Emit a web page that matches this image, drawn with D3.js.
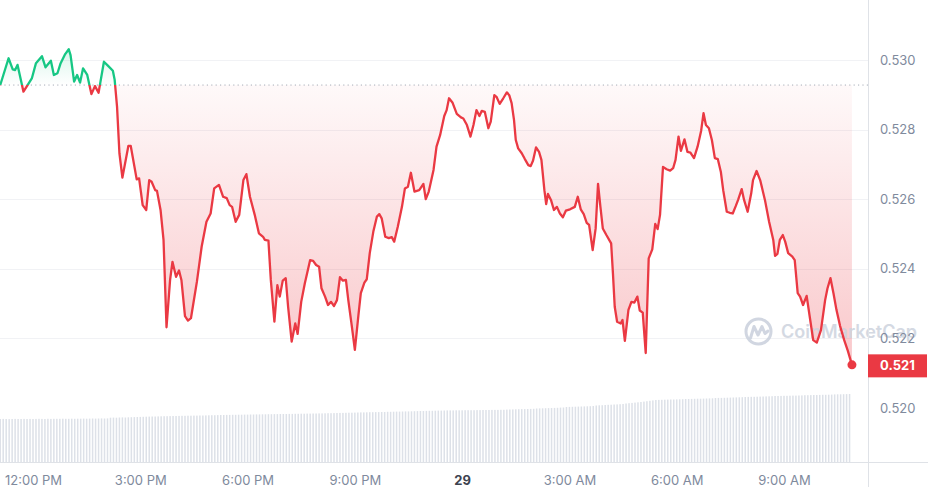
<!DOCTYPE html>
<html>
<head>
<meta charset="utf-8">
<script src="https://cdn.jsdelivr.net/npm/d3@7"></script>
<style>
  html, body { margin: 0; padding: 0; background: #ffffff; }
  svg { display: block; font-family: Inter, "Noto Sans", sans-serif; }
</style>
</head>
<body>
<svg id="chart" width="928" height="495"></svg>
<script>
// ---- data (minutes since 11:00 AM on the 28th) ----
const minutes = [5,19,26,30,34,44,58,65,75,81,90,95,101,106,114,120,123,129,134,139,144,151,158,164,170,179,186,194,197,201,205,210,220,224,234,238,244,250,255,259,265,268,274,279,284,290,294,300,305,309,315,320,325,335,343,351,358,364,372,379,385,390,394,400,406,413,418,424,432,439,446,449,455,459,465,470,474,479,484,488,494,500,504,510,516,525,530,535,540,544,550,555,560,565,570,575,580,585,589,595,600,606,610,616,620,625,631,637,641,645,651,657,662,666,672,679,684,689,694,700,708,715,719,724,732,737,743,750,754,758,764,771,778,782,788,794,799,804,809,813,818,824,828,834,838,843,849,855,859,863,867,870,874,880,885,891,895,899,904,909,913,918,921,924,929,934,939,944,949,954,961,969,974,979,984,989,993,999,1004,1008,1012,1016,1022,1030,1033,1036,1040,1046,1049,1053,1059,1064,1069,1074,1078,1083,1088,1093,1099,1104,1108,1112,1117,1123,1129,1134,1138,1143,1147,1153,1158,1163,1169,1175,1181,1185,1189,1194,1199,1204,1209,1214,1218,1224,1229,1234,1239,1243,1249,1253,1259,1265,1268,1274,1280,1288,1295,1302,1305,1309,1313,1318,1322,1327,1334,1338,1343,1347,1352,1358,1364,1369,1375,1382,1389,1393,1398,1403,1408,1414,1421,1427,1434];

const prices = [
0.52928,0.53005,0.52973,0.52971,0.52986,0.52909,0.52947,0.52991,0.53011,0.52979,
0.52998,0.52957,0.52962,0.52989,0.53017,0.53031,0.53014,0.52938,0.52957,0.52935,
0.52976,0.52957,0.52902,0.52925,0.52906,0.52995,0.52983,0.52969,0.52943,0.52866,
0.52732,0.52662,0.52753,0.52753,0.52657,0.52660,0.52583,0.52569,0.52655,0.52650,
0.52626,0.52624,0.52569,0.52483,0.52232,0.52368,0.52420,0.52377,0.52395,0.52368,
0.52264,0.52251,0.52258,0.52363,0.52464,0.52535,0.52559,0.52631,0.52641,0.52607,
0.52603,0.52583,0.52578,0.52535,0.52555,0.52655,0.52672,0.52607,0.52555,0.52502,
0.52492,0.52483,0.52481,0.52368,0.52248,0.52353,0.52320,0.52366,0.52373,0.52291,
0.52191,0.52243,0.52213,0.52305,0.52358,0.52425,0.52423,0.52411,0.52406,0.52344,
0.52320,0.52296,0.52305,0.52293,0.52310,0.52376,0.52366,0.52368,0.52310,0.52234,
0.52167,0.52267,0.52330,0.52360,0.52370,0.52445,0.52507,0.52550,0.52557,0.52545,
0.52492,0.52488,0.52491,0.52478,0.52521,0.52578,0.52631,0.52636,0.52676,0.52622,
0.52626,0.52644,0.52600,0.52622,0.52684,0.52751,0.52784,0.52839,0.52856,0.52890,
0.52877,0.52845,0.52835,0.52832,0.52813,0.52780,0.52813,0.52856,0.52839,0.52854,
0.52851,0.52804,0.52823,0.52899,0.52893,0.52874,0.52890,0.52907,0.52899,0.52876,
0.52828,0.52770,0.52746,0.52732,0.52716,0.52698,0.52695,0.52711,0.52749,0.52736,
0.52713,0.52626,0.52586,0.52615,0.52598,0.52569,0.52578,0.52559,0.52548,0.52567,
0.52571,0.52578,0.52607,0.52571,0.52557,0.52532,0.52526,0.52454,0.52516,0.52644,
0.52578,0.52516,0.52497,0.52473,0.52387,0.52291,0.52248,0.52243,0.52253,0.52193,
0.52282,0.52305,0.52303,0.52320,0.52280,0.52274,0.52158,0.52430,0.52456,0.52529,
0.52514,0.52555,0.52693,0.52686,0.52682,0.52689,0.52713,0.52780,0.52739,0.52772,
0.52736,0.52734,0.52718,0.52751,0.52797,0.52847,0.52813,0.52804,0.52770,0.52718,
0.52715,0.52679,0.52626,0.52564,0.52561,0.52559,0.52580,0.52598,0.52629,0.52598,
0.52564,0.52617,0.52655,0.52681,0.52655,0.52598,0.52535,0.52483,0.52437,0.52443,
0.52483,0.52497,0.52478,0.52445,0.52435,0.52425,0.52330,0.52320,0.52296,0.52322,
0.52253,0.52195,0.52188,0.52224,0.52310,0.52344,0.52373,0.52330,0.52282,0.52236,
0.52195,0.52165,0.52124];

const openPrice = 0.52928;

// volume bars, one every 5 minutes starting at minute 5 (arbitrary units)
const volumeStartMinute = 5;
const volumeStepMinutes = 5;
const volumes = [
43.0,43.1,43.0,42.9,43.0,43.1,43.0,43.0,43.1,43.0,
43.1,43.0,43.1,43.2,43.1,43.0,43.2,43.1,43.2,43.2,
43.2,43.3,43.2,43.2,43.3,43.2,43.3,43.3,43.4,43.3,
43.4,43.5,43.4,43.5,43.6,43.5,43.6,44.3,44.4,44.3,
44.5,44.6,44.5,44.7,44.8,44.9,45.0,45.1,45.2,45.3,
45.4,45.5,45.5,45.6,45.7,45.8,45.8,45.9,46.0,46.0,
46.1,46.2,46.2,46.3,46.3,46.4,46.4,46.5,46.5,46.6,
46.7,46.8,46.8,46.9,47.0,47.0,47.1,47.1,47.2,47.2,
47.3,47.3,47.4,47.4,47.5,47.5,47.6,47.6,47.7,47.7,
47.8,47.8,47.9,47.9,48.0,48.0,48.0,48.1,48.1,48.2,
48.2,48.3,48.3,48.4,48.4,48.5,48.5,48.6,48.6,48.7,
48.8,48.8,48.9,49.0,49.1,49.1,49.2,49.3,49.3,49.4,
49.5,49.6,49.6,49.7,49.8,49.8,49.9,49.9,50.0,50.0,
50.2,50.2,50.3,50.4,50.4,50.5,50.6,50.6,50.7,50.8,
50.9,51.0,51.0,51.1,51.2,51.2,51.3,51.4,51.4,51.5,
51.6,51.6,51.6,51.7,51.7,51.7,51.8,51.8,51.8,51.8,
51.9,51.9,52.0,52.0,52.0,52.1,52.1,52.1,52.2,52.2,
52.4,52.5,52.6,52.7,52.8,52.9,52.9,53.0,53.1,53.2,
53.5,53.6,53.7,53.8,53.9,54.0,54.1,54.2,54.4,54.5,
55.0,55.1,55.2,55.3,55.4,55.5,55.6,55.7,55.8,56.0,
56.5,56.7,56.8,57.0,57.2,57.3,57.5,57.6,57.8,58.0,
58.5,58.8,59.1,59.4,59.7,60.0,60.4,60.8,61.2,61.6,
62.0,62.1,62.2,62.3,62.4,62.5,62.5,62.6,62.7,62.8,
63.0,63.0,63.1,63.2,63.3,63.3,63.4,63.5,63.6,63.7,
64.0,64.1,64.1,64.2,64.3,64.4,64.5,64.6,64.7,64.8,
65.0,65.1,65.2,65.2,65.3,65.4,65.5,65.6,65.7,65.8,
66.0,66.0,66.1,66.2,66.2,66.3,66.4,66.4,66.5,66.6,
66.8,66.8,66.9,67.0,67.0,67.1,67.2,67.2,67.3,67.4,
67.6,67.7,67.7,67.8,67.9,68.0];

const tickMinutes = [60, 240, 420, 600, 780, 960, 1140, 1320];
const tickLabels = ["12:00 PM", "3:00 PM", "6:00 PM", "9:00 PM", "29", "3:00 AM", "6:00 AM", "9:00 AM"];
const priceTicks = [0.520, 0.522, 0.524, 0.526, 0.528, 0.530];

// ---- layout ----
const W = 928, H = 495;
const plotRight = 868;
const axisY = 462;
const RED = "#ea3943", GREEN = "#16c784";

const n = Math.min(minutes.length, prices.length);
const data = d3.range(n).map(i => ({ m: minutes[i], p: prices[i] }));

const x = d3.scaleLinear().domain([60, 1320]).range([33, 784]);
const y = d3.scaleLinear().domain([0.520, 0.530]).range([408, 60]);
const vy = d3.scaleLinear().domain([0, 68]).range([axisY, 394]);

const svg = d3.select("#chart");
const defs = svg.append("defs");

const yBase = y(openPrice);

defs.append("clipPath").attr("id", "clipAbove")
  .append("rect").attr("x", 0).attr("y", 0).attr("width", plotRight).attr("height", yBase);
defs.append("clipPath").attr("id", "clipBelow")
  .append("rect").attr("x", 0).attr("y", yBase).attr("width", plotRight).attr("height", axisY - yBase);

const gRed = defs.append("linearGradient").attr("id", "gradRed")
  .attr("gradientUnits", "userSpaceOnUse").attr("x1", 0).attr("x2", 0).attr("y1", yBase).attr("y2", 365);
gRed.append("stop").attr("offset", 0).attr("stop-color", RED).attr("stop-opacity", 0.03);
gRed.append("stop").attr("offset", 1).attr("stop-color", RED).attr("stop-opacity", 0.28);

const gGreen = defs.append("linearGradient").attr("id", "gradGreen")
  .attr("gradientUnits", "userSpaceOnUse").attr("x1", 0).attr("x2", 0).attr("y1", yBase).attr("y2", 45);
gGreen.append("stop").attr("offset", 0).attr("stop-color", GREEN).attr("stop-opacity", 0.0);
gGreen.append("stop").attr("offset", 1).attr("stop-color", GREEN).attr("stop-opacity", 0.18);

// grid lines
svg.append("g").selectAll("line").data(priceTicks.filter(t => t > 0.520)).join("line")
  .attr("x1", 0).attr("x2", plotRight)
  .attr("y1", d => Math.round(y(d)) + 0.5).attr("y2", d => Math.round(y(d)) + 0.5)
  .attr("stroke", "#f1f2f5").attr("stroke-width", 1);

// volume bars
svg.append("g").selectAll("rect").data(volumes).join("rect")
  .attr("x", (d, i) => x(volumeStartMinute + i * volumeStepMinutes) - 0.75)
  .attr("width", 1.5)
  .attr("y", d => vy(d))
  .attr("height", d => axisY - vy(d))
  .attr("fill", "#dde1e8");

// areas
const area = d3.area().x(d => x(d.m)).y0(yBase).y1(d => y(d.p));
svg.append("path").datum(data).attr("d", area).attr("fill", "url(#gradGreen)").attr("clip-path", "url(#clipAbove)");
svg.append("path").datum(data).attr("d", area).attr("fill", "url(#gradRed)").attr("clip-path", "url(#clipBelow)");

// baseline dotted
svg.append("line").attr("x1", 0).attr("x2", plotRight).attr("y1", yBase).attr("y2", yBase)
  .attr("stroke", "#a7adb8").attr("stroke-width", 1).attr("stroke-dasharray", "1.2,3.2");

// watermark
const wm = svg.append("g").attr("opacity", 0.85);
wm.append("circle").attr("cx", 758.5).attr("cy", 331.5).attr("r", 12.5)
  .attr("fill", "none").attr("stroke", "#c9d0dc").attr("stroke-width", 3);
wm.append("path").attr("d", "M750.5,338 L754,326.5 L758,335 L762,326.5 L765,333.5 L768,331")
  .attr("fill", "none").attr("stroke", "#c9d0dc").attr("stroke-width", 3).attr("stroke-linejoin", "round").attr("stroke-linecap", "round");
wm.append("text").attr("x", 781).attr("y", 338).text("CoinMarketCap")
  .attr("font-size", 18).attr("font-weight", 600).attr("fill", "#cdd3de");

// price line
const line = d3.line().x(d => x(d.m)).y(d => y(d.p));
svg.append("path").datum(data).attr("d", line).attr("fill", "none").attr("stroke", GREEN)
  .attr("stroke-width", 2.3).attr("stroke-linejoin", "round").attr("clip-path", "url(#clipAbove)");
svg.append("path").datum(data).attr("d", line).attr("fill", "none").attr("stroke", RED)
  .attr("stroke-width", 2.3).attr("stroke-linejoin", "round").attr("clip-path", "url(#clipBelow)");

// end dot
const last = data[data.length - 1];
svg.append("circle").attr("cx", x(last.m)).attr("cy", y(last.p)).attr("r", 4.5).attr("fill", RED);

// frame lines
svg.append("line").attr("x1", 0).attr("x2", W).attr("y1", axisY + 0.5).attr("y2", axisY + 0.5)
  .attr("stroke", "#dfe2e7").attr("stroke-width", 1);
svg.append("line").attr("x1", plotRight + 0.5).attr("x2", plotRight + 0.5).attr("y1", 0).attr("y2", 487)
  .attr("stroke", "#dfe2e7").attr("stroke-width", 1);

// y axis (right)
const yAxis = d3.axisRight(y).tickValues(priceTicks).tickFormat(d3.format(".3f")).tickSize(0).tickPadding(12);
const gy = svg.append("g").attr("transform", `translate(${plotRight},0)`).call(yAxis);
gy.select(".domain").remove();
gy.selectAll("text").attr("font-family", "Inter, sans-serif").attr("font-size", 13).attr("fill", "#808a9d");

// x axis
const xAxis = d3.axisBottom(x).tickValues(tickMinutes).tickFormat((d, i) => tickLabels[i]).tickSize(0).tickPadding(14);
const gx = svg.append("g").attr("transform", `translate(0,${axisY})`).call(xAxis);
gx.select(".domain").remove();
gx.selectAll("text").attr("font-family", "Inter, sans-serif").attr("font-size", 13)
  .attr("fill", (d, i) => tickLabels[i] === "29" ? "#3d4350" : "#808a9d")
  .attr("font-weight", (d, i) => tickLabels[i] === "29" ? 700 : 400);

// current price tag
const yl = y(last.p);
svg.append("rect").attr("x", plotRight).attr("y", yl - 10.5).attr("width", W - plotRight - 1).attr("height", 23)
  .attr("fill", RED);
svg.append("text").attr("x", plotRight + 12).attr("y", yl + 1).attr("dy", "0.32em")
  .attr("font-size", 13).attr("font-weight", 700).attr("fill", "#ffffff")
  .text(d3.format(".3f")(last.p));
</script>
</body>
</html>
